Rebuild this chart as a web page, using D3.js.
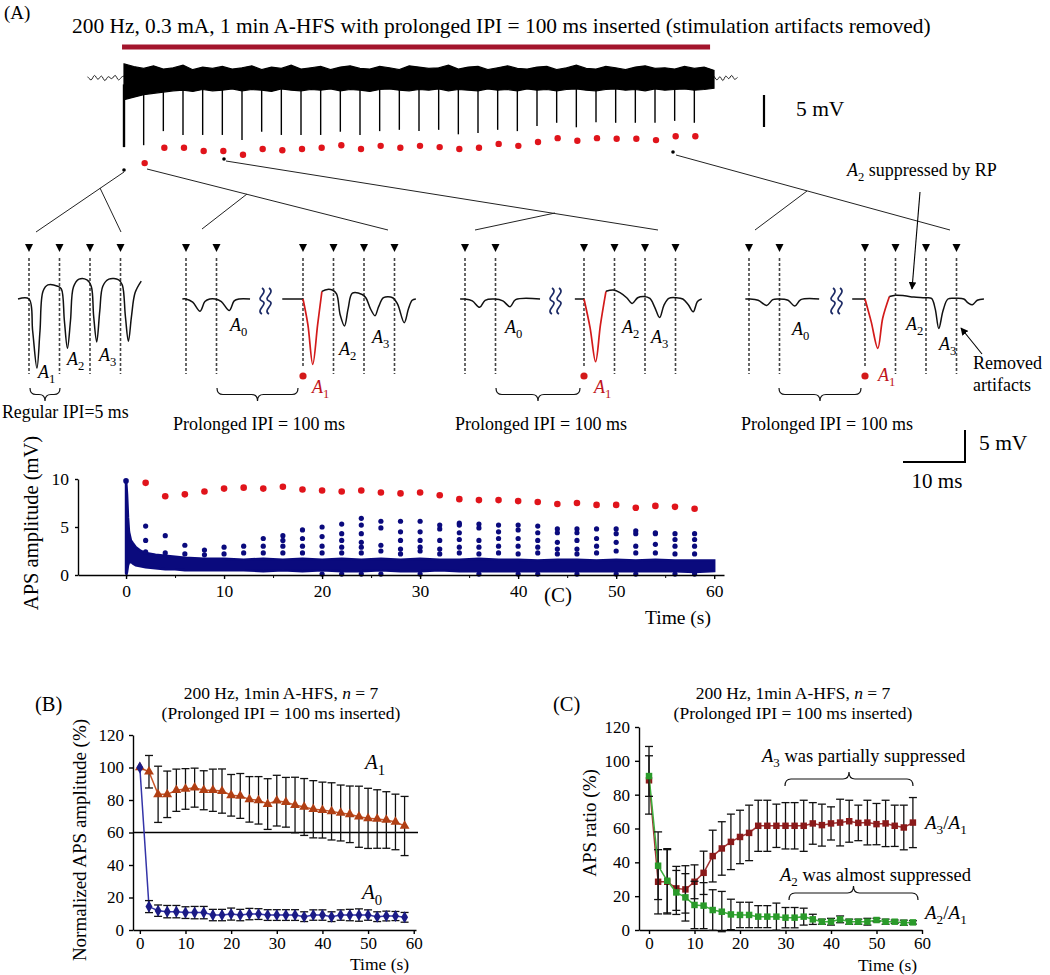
<!DOCTYPE html>
<html>
<head>
<meta charset="utf-8">
<script src="https://cdn.jsdelivr.net/npm/d3@7"></script>
<style>
  body { margin: 0; background: #fff; }
  svg { display: block; }
</style>
</head>
<body>
<svg id="fig" width="1050" height="975"></svg>
<script>
// ---------------- data ----------------
// pulse times of the prolonged IPI (s)
const timeSec = [0,2,4,6,8,10,12,14,16,18,20,22,24,26,28,30,32,34,36,38,40,42,44,46,48,50,52,54,56,58];
const pulseSec = [2,4,6,8,10,12,14,16,18,20,22,24,26,28,30,32,34,36,38,40,42,44,46,48,50,52,54,56,58];

// raw trace (mV): spike depth at every prolonged IPI and the A1 dot under it
const traceSpike = [10.8,10.5,8.3,8.9,8.9,8.9,9.7,8.4,8.9,8.9,8.9,8.4,8.9,8.3,8.1,8.3,8.1,8.8,8.6,8.1,8.3,7.5,7.0,7.7,6.9,7.0,7.0,7.0,6.7,7.0];
const traceA1 = [13.3,10.9,10.9,11.4,11.4,12.0,11.1,11.3,11.1,10.9,10.5,11.1,10.6,10.9,10.6,10.8,11.1,10.9,10.3,10.6,10.0,9.4,9.8,9.4,9.5,9.5,9.7,9.1,9.1];
// envelope of the noisy trace during stimulation, 1 s steps (mV)
const noiseSec = [0,1,2,3,4,5,6,7,8,9,10,11,12,13,14,15,16,17,18,19,20,21,22,23,24,25,26,27,28,29,30,31,32,33,34,35,36,37,38,39,40,41,42,43,44,45,46,47,48,49,50,51,52,53,54,55,56,57,58,59,60];
const noiseHi = [2.2,1.8,1.5,1.9,1.4,1.6,2.0,1.3,1.7,1.5,1.8,1.4,1.6,1.9,1.3,1.7,1.5,2.0,1.4,1.6,1.8,1.3,1.7,1.9,1.5,1.4,1.8,1.6,1.3,1.9,1.7,1.5,1.6,2.0,1.4,1.7,1.8,1.3,1.6,1.9,1.5,1.4,1.7,1.8,1.3,1.6,2.0,1.5,1.4,1.8,1.6,1.3,1.7,1.9,1.5,1.6,1.4,1.8,1.5,1.7,1.2];
const noiseLo = [-3.4,-3.0,-2.6,-2.4,-2.2,-2.0,-1.9,-2.1,-1.8,-2.0,-1.9,-1.7,-2.0,-1.8,-1.9,-2.1,-1.7,-1.9,-2.0,-1.8,-1.9,-1.7,-2.0,-1.8,-1.9,-2.1,-1.8,-1.7,-1.9,-2.0,-1.8,-1.9,-1.7,-2.0,-1.8,-1.9,-2.0,-1.7,-1.9,-1.8,-2.0,-1.7,-1.9,-1.8,-2.0,-1.8,-1.7,-1.9,-2.0,-1.8,-1.7,-1.9,-1.8,-2.0,-1.7,-1.9,-1.8,-1.7,-1.9,-1.8,-1.6];
const preSec = [-3.7,-3.35,-3.0,-2.65,-2.3,-1.95,-1.6,-1.25,-0.9,-0.55,-0.2,0];
const preMv = [0.2,-0.3,0.4,-0.2,0.3,-0.4,0.2,-0.1,0.4,-0.3,0.2,0.3];
const postSec = [60,60.3,60.6,60.9,61.2,61.5,61.8,62.1,62.4];
const postMv = [0.3,-0.3,0.2,-0.4,0.3,-0.1,0.4,-0.2,0.1];

// insets: [ms, mV] samples of each sweep
const waveRegular = [[-1.8,0],[0,0],[0.6,-5.0],[1.3,-10.8],[1.8,-5.0],[2.3,1.2],[3.1,2.2],[4.7,2.0],[5.3,1.6],[5.8,-3.4],[6.3,-7.7],[6.8,-3.4],[7.3,1.9],[8.2,3.1],[9.5,3.0],[10.2,2.0],[10.6,-2.7],[11.1,-6.7],[11.6,-1.9],[12.1,2.0],[13.1,3.1],[14.7,3.0],[15.3,2.2],[15.8,-2.7],[16.3,-6.6],[16.8,-2.7],[17.4,1.0],[18.4,2.8]];
const wavePre2 = [[-0.6,0],[0,0],[1.1,-0.5],[2.3,-1.9],[3.1,-0.4],[3.9,0],[4.8,0],[5.8,-0.4],[7.1,-1.8],[7.9,-0.3],[8.7,0],[10.5,0]];
const waveRed2 = [[-3.4,0],[0,0],[0.8,-4.0],[1.6,-10.2],[2.4,-4.0],[3.1,1.2]];
const wavePost2 = [[3.1,1.2],[4.0,1.5],[4.8,1.4],[5.5,0.8],[6.1,-2.5],[6.8,-4.2],[7.4,-1.5],[8.1,0.9],[9.7,0.7],[10.3,0.2],[11.1,-1.6],[11.8,-2.6],[12.4,-1.2],[13.2,0.2],[14.7,0.2],[15.5,-0.8],[16.6,-3.7],[17.3,-1.5],[17.9,-0.2],[18.5,0]];
const wavePre3 = [[-0.8,0],[0,0],[1.2,-0.3],[2.4,-1.3],[3.3,-0.2],[4.9,0],[6.2,-0.3],[7.4,-1.2],[8.3,-0.1],[12.3,0]];
const waveRed3 = [[-1.5,0],[0,0],[1.0,-4.5],[1.9,-9.8],[2.7,-4.0],[3.6,1.2]];
const wavePost3 = [[3.6,1.2],[4.8,1.4],[5.9,1.0],[7.0,0.2],[7.9,-0.7],[8.8,0.2],[9.8,0.4],[10.8,0.1],[11.6,-1.3],[12.4,-2.9],[13.1,-1.0],[13.9,0.1],[15.1,0.2],[16.2,0.0],[17.1,-0.9],[17.9,-2.0],[18.6,-0.4],[19.3,0]];
const wavePre4 = [[-0.6,0],[0,0],[1.5,-0.2],[2.9,-1.0],[3.9,-0.1],[4.8,0],[6.4,-0.2],[7.5,-1.1],[8.5,-0.1],[11.5,0]];
const waveRed4 = [[-2.1,0],[0,0],[1.0,-3.5],[2.1,-7.7],[2.9,-3.0],[4.0,0.4]];
const wavePost4 = [[4.0,0.4],[5.0,0.6],[6.5,0.5],[8.0,0.3],[9.8,0.2],[10.9,0.1],[11.5,-1.5],[12.1,-4.6],[12.8,-1.8],[13.6,0],[14.9,0.1],[16.2,0],[16.9,-0.6],[17.6,-0.9],[18.4,-0.2],[19.5,0]];

// APS amplitude scatter (mV)
const ampA1 = [9.6,8.2,8.4,8.7,9.0,9.1,9.0,9.2,8.9,8.8,8.7,8.8,8.6,8.5,8.6,8.3,7.9,7.8,7.8,7.7,7.6,7.4,7.5,7.3,7.3,7.0,7.2,7.1,6.9];
const ampOthers = [
  [5.1,3.6,2.4],[4.1,2.3],[3.1,2.2],[2.6,2.1],[2.9,2.2],[3.0,2.3],[3.8,3.0,2.3],[4.1,3.6,3.0,2.3],
  [4.7,3.8,3.0,2.3],[5.0,4.0,3.0,2.3,0.1],[5.3,4.3,3.6,2.9,2.3,0.1],[5.9,5.2,4.3,3.4,2.9,2.3,0.1],
  [5.6,4.9,3.1,2.5,0.1],[5.6,4.5,3.6,2.7,2.2],[5.6,4.5,3.6,2.9,2.5,0.1],[5.2,4.8,3.6,2.7,2.2],
  [5.4,5.2,4.4,3.7,2.9,2.3],[5.3,4.9,3.6,2.9,2.2,0.1],[5.2,4.5,3.8,3.0,2.3],[5.2,4.7,3.8,3.0,2.2,0.1],
  [5.1,4.4,3.6,2.9,2.3,0.1],[4.8,4.4,3.4,2.7,2.2],[4.8,4.4,3.6,2.7,2.2,0.1],[4.8,3.8,3.0,2.3],
  [4.8,4.3,3.4,2.5,0.1],[4.6,4.3,3.0,2.3,0.1],[4.4,4.3,3.2,2.3],[4.3,3.7,3.0,2.2,0.1],[4.3,3.7,3.0,2.2,0.1]
];
const bandSec = [0,0.05,0.1,0.2,0.3,0.5,0.7,1,1.5,2,3,4,5,6,8,10,12,14,16,18,20,22,24,26,28,30,32,34,36,38,40,42,44,46,48,50,52,54,56,58,60];
const bandHi = [9.8,9.2,8.4,6.0,4.5,3.6,3.3,2.9,2.5,2.3,2.1,2.0,1.9,1.8,1.7,1.7,1.6,1.7,1.6,1.7,1.6,1.7,1.6,1.7,1.6,1.7,1.6,1.6,1.7,1.6,1.6,1.5,1.6,1.6,1.5,1.6,1.5,1.6,1.5,1.5,1.5];
const bandLo = [0.2,0.1,0.3,1.0,1.3,1.4,1.2,1.0,0.9,0.8,0.7,0.6,0.6,0.5,0.5,0.5,0.5,0.4,0.5,0.4,0.5,0.4,0.4,0.5,0.4,0.4,0.5,0.4,0.4,0.4,0.4,0.4,0.4,0.4,0.4,0.4,0.4,0.4,0.4,0.3,0.4];

// (B) normalized APS amplitude (%)
const normA1 = [100,97.4,83.5,83.5,86,86.8,87.6,86,86,85.5,82.9,82.5,80.4,79.8,77.5,79.6,78.6,76.9,75.7,74.3,73.8,73,72,71.2,69.7,68.7,68.3,67.7,66.5,64];
const sdA1 = [0,10,17.3,14.3,13,12.5,12,12,13,13.6,12.8,13.8,14,14.6,15.6,15.6,15.3,17.1,17.5,17.6,17.2,17.6,17.2,17.4,18.8,18.5,18,17.4,17.1,18.2];
const normA0 = [100,14.4,11.9,11.3,11.3,10.7,10.7,10.7,9.2,9.2,9.8,9.2,9.8,9.8,9.2,9.2,9.2,9.2,8.2,9.2,9.2,8.2,9.2,9.2,9.2,9.2,8.2,8.6,8.6,7.8];
const sdA0 = [0,3.7,3.5,3.8,3.8,3.6,3.8,3.8,3.5,3.5,3.7,3.5,3.5,3.3,3.3,3.3,3.3,3.3,3.0,3.2,3.2,3.0,3.2,3.5,3.8,3.2,3.0,3.0,2.8,3.0];

// (C) APS ratio (%)
const ratioA3 = [88.5,28.5,28.5,24.6,24.0,28.5,33.8,43.7,48.2,52.1,55.0,57.4,61.6,61.6,61.6,61.6,61.6,61.6,63.0,62.0,63.0,63.5,64.3,63.3,63.5,62.6,63.0,61.6,60.6,63.5];
const sdA3 = [20,19,19,13,14,10,12.8,15.3,15.8,16.4,15.8,16.4,15.1,15.1,12.8,13.7,13.7,15.1,12.3,12.4,9.8,13.8,12.4,10.5,13.2,12.2,13.7,12.2,13.2,14.8];
const ratioA2 = [91,38,29.1,22.2,19.3,14.8,14.4,11.8,10.8,9.2,8.9,8.9,7.9,7.9,7.9,7.3,7.3,7.9,6.3,4.9,4.9,6.3,4.9,4.9,4.9,5.9,4.9,4.9,4.3,4.5];
const sdA2 = [12,20,19,13,14,14,13.6,12,12,9,7.5,7.5,6.5,6.5,8,6,6,5,3,1.5,2,2,1.5,1.5,2,1,1.5,1,1.5,1];

const ticks60 = [0,10,20,30,40,50,60];
const ticks120 = [0,20,40,60,80,100,120];

// ---------------- helpers ----------------
const FONT = '"Liberation Serif", "Times New Roman", Times, serif';
const svg = d3.select("#fig").attr("font-family", FONT);
svg.append("rect").attr("width", 1050).attr("height", 975).attr("fill", "#fff");

function text(g, x, y, s, size, anchor) {
  return g.append("text").attr("x", x).attr("y", y).attr("font-size", size)
    .attr("text-anchor", anchor || "start").text(s);
}
// parts: "A1" -> italic A with subscript 1, other strings plain
function rich(g, x, y, size, parts, color, anchor) {
  const t = g.append("text").attr("x", x).attr("y", y).attr("font-size", size)
    .attr("fill", color || "#000").attr("text-anchor", anchor || "start");
  let down = false;
  parts.forEach(p => {
    if (/^A\d$/.test(p)) {
      const a = t.append("tspan").attr("font-style", "italic").text("A");
      if (down) { a.attr("dy", -size * 0.28); down = false; }
      t.append("tspan").attr("font-size", size * 0.7).attr("dy", size * 0.28).text(p[1]);
      down = true;
    } else {
      const s = t.append("tspan").text(p);
      if (down) { s.attr("dy", -size * 0.28); down = false; }
    }
  });
  return t;
}
function brace(g, x1, x2, y, d) {
  const xm = (x1 + x2) / 2, q = 6, h = y + d / 2;
  g.append("path").attr("fill", "none").attr("stroke", "#111").attr("stroke-width", 1.2)
    .attr("d", `M${x1},${y} Q${x1},${h} ${x1 + q},${h} L${xm - q},${h} Q${xm},${h} ${xm},${y + d} Q${xm},${h} ${xm + q},${h} L${x2 - q},${h} Q${x2},${h} ${x2},${y}`);
}
function styleAxis(g, size) {
  g.attr("font-family", FONT).attr("font-size", size || 17);
  g.selectAll("text").attr("fill", "#000");
  g.selectAll("path, line").attr("stroke", "#000").attr("stroke-width", 1.4);
}

// ---------------- (A) top: raw trace ----------------
const gTop = svg.append("g");
text(gTop, 4, 19, "(A)", 19);
text(gTop, 72, 33, "200 Hz, 0.3 mA, 1 min A-HFS with prolonged IPI = 100 ms inserted (stimulation artifacts removed)", 21.4);

const xT = d3.scaleLinear().domain([0, 60]).range([124, 714]);
const yT = d3.scaleLinear().domain([0, -5]).range([78, 110]);

gTop.append("line").attr("x1", xT(-0.2)).attr("x2", xT(59.6)).attr("y1", 47).attr("y2", 47)
  .attr("stroke", "#a3152c").attr("stroke-width", 5);

const wig = d3.line().x(d => xT(d[0])).y(d => yT(d[1])).curve(d3.curveCatmullRom);
gTop.append("path").datum(preSec.map((t, i) => [t, preMv[i]])).attr("d", wig)
  .attr("fill", "none").attr("stroke", "#222").attr("stroke-width", 1);
gTop.append("path").datum(postSec.map((t, i) => [t, postMv[i]])).attr("d", wig)
  .attr("fill", "none").attr("stroke", "#222").attr("stroke-width", 1);

const noise = noiseSec.map((t, i) => ({ t, hi: noiseHi[i], lo: noiseLo[i] }));
gTop.append("path").datum(noise)
  .attr("d", d3.area().x(d => xT(d.t)).y0(d => yT(d.lo)).y1(d => yT(d.hi)))
  .attr("fill", "#000").attr("stroke", "#000").attr("stroke-width", 1.2);

gTop.selectAll(".spike").data(timeSec).join("line")
  .attr("x1", d => xT(d)).attr("x2", d => xT(d))
  .attr("y1", yT(-1)).attr("y2", (d, i) => yT(-traceSpike[i]))
  .attr("stroke", "#000").attr("stroke-width", (d, i) => i === 0 ? 2.4 : 1.4);

gTop.selectAll(".tdot").data(pulseSec).join("circle")
  .attr("cx", d => xT(d) + 1).attr("cy", (d, i) => yT(-traceA1[i])).attr("r", 3.2)
  .attr("fill", "#e0141b");

// 5 mV scale bar
gTop.append("line").attr("x1", 764).attr("x2", 764).attr("y1", yT(0) + 17).attr("y2", yT(-5) + 17)
  .attr("stroke", "#000").attr("stroke-width", 2.2);
text(gTop, 796, 116, "5 mV", 21.5);

// connectors from trace to the insets
const gCon = svg.append("g").attr("stroke", "#222").attr("stroke-width", 1).attr("fill", "none");
[[124, 172, 36, 232], [100, 188, 121, 232],
 [147, 169, 388, 230], [247, 194, 202, 229],
 [226, 161, 658, 230], [555, 213, 475, 230],
 [676, 155, 950, 230], [807, 191, 755, 230]].forEach(s => {
  gCon.append("line").attr("x1", s[0]).attr("y1", s[1]).attr("x2", s[2]).attr("y2", s[3]);
});
[[124, 170], [224, 159], [673, 152]].forEach(p =>
  svg.append("circle").attr("cx", p[0]).attr("cy", p[1]).attr("r", 1.8).attr("fill", "#000"));

// ---------------- (A) insets ----------------
const gIn = svg.append("g");
const Y0 = 299;
const yIn = d3.scaleLinear().domain([0, -5]).range([Y0, Y0 + 32]);
function sweep(x0, wave, color, width) {
  const xs = d3.scaleLinear().domain([0, 10]).range([x0, x0 + 61]);
  gIn.append("path").datum(wave)
    .attr("d", d3.line().x(d => xs(d[0])).y(d => yIn(d[1])).curve(d3.curveCatmullRom.alpha(0.5)))
    .attr("fill", "none").attr("stroke", color).attr("stroke-width", width || 1.5);
}
function stims(x0, msList, yBottom) {
  const xs = d3.scaleLinear().domain([0, 10]).range([x0, x0 + 61]);
  msList.forEach((ms, i) => {
    const x = xs(ms);
    gIn.append("path").attr("d", `M${x - 4},244 L${x + 4},244 L${x},252 Z`).attr("fill", "#000");
    gIn.append("line").attr("x1", x).attr("x2", x).attr("y1", 258)
      .attr("y2", yBottom && i === 0 ? yBottom : 374)
      .attr("stroke", "#444").attr("stroke-width", 1.6).attr("stroke-dasharray", "3,2");
  });
}
function squiggle(x) {
  [0, 7].forEach(dx => {
    gIn.append("path")
      .attr("d", `M${x + dx},288 C${x + dx + 7},293 ${x + dx - 7},298 ${x + dx},301 C${x + dx + 7},304 ${x + dx - 7},310 ${x + dx},314`)
      .attr("fill", "none").attr("stroke", "#1e2c66").attr("stroke-width", 1.7);
  });
}

// inset 1: regular IPI
stims(29, [0, 5, 10, 15]);
sweep(29, waveRegular, "#111");
rich(gIn, 38, 378, 18, ["A1"]);
rich(gIn, 67, 365, 18, ["A2"]);
rich(gIn, 99, 361, 18, ["A3"]);
brace(gIn, 30, 60, 388, 13);
text(gIn, 2, 418, "Regular IPI=5 ms", 17.8);

// insets 2-4: prolonged IPI
const prolonged = [
  { pre: 186, post: 303, wPre: wavePre2, wRed: waveRed2, wPost: wavePost2, sq: 262,
    a0: [230, 331], a2: [339, 355], a3: [372, 343], a1: [312, 393], br: [217, 298], lab: 259 },
  { pre: 465, post: 584, wPre: wavePre3, wRed: waveRed3, wPost: wavePost3, sq: 552,
    a0: [505, 333], a2: [622, 333], a3: [651, 343], a1: [594, 393], br: [496, 580], lab: 541 },
  { pre: 749, post: 865, wPre: wavePre4, wRed: waveRed4, wPost: wavePost4, sq: 833,
    a0: [792, 335], a2: [906, 330], a3: [939, 350], a1: [878, 381], br: [779, 861], lab: 827 }
];
prolonged.forEach(p => {
  stims(p.pre, [0, 5]);
  stims(p.post, [0, 5, 10, 15], 366);
  sweep(p.pre, p.wPre, "#111");
  squiggle(p.sq);
  sweep(p.post, p.wRed.slice(0, 2), "#111");
  sweep(p.post, p.wRed.slice(1), "#d31a1a", 1.7);
  sweep(p.post, p.wPost, "#111");
  gIn.append("circle").attr("cx", p.post).attr("cy", 376).attr("r", 3.6).attr("fill", "#d31a1a");
  rich(gIn, p.a0[0], p.a0[1], 18, ["A0"]);
  rich(gIn, p.a2[0], p.a2[1], 18, ["A2"]);
  rich(gIn, p.a3[0], p.a3[1], 18, ["A3"]);
  rich(gIn, p.a1[0], p.a1[1], 18, ["A1"], "#c0141b");
  brace(gIn, p.br[0], p.br[1], 388, 13);
  text(gIn, p.lab, 430, "Prolonged IPI = 100 ms", 18, "middle");
});

// annotation arrows
const defs = svg.append("defs");
defs.append("marker").attr("id", "ah").attr("viewBox", "0 0 10 10").attr("refX", 9).attr("refY", 5)
  .attr("markerWidth", 7).attr("markerHeight", 7).attr("orient", "auto")
  .append("path").attr("d", "M0,0 L10,5 L0,10 Z").attr("fill", "#000");
gIn.append("line").attr("x1", 920).attr("y1", 192).attr("x2", 912).attr("y2", 289)
  .attr("stroke", "#000").attr("stroke-width", 1.1).attr("marker-end", "url(#ah)");
rich(gIn, 847, 176, 18, ["A2", " suppressed by RP"]);
gIn.append("line").attr("x1", 982).attr("y1", 354).attr("x2", 961).attr("y2", 328)
  .attr("stroke", "#000").attr("stroke-width", 1.1).attr("marker-end", "url(#ah)");
text(gIn, 973, 369, "Removed", 18);
text(gIn, 973, 391, "artifacts", 18);

// inset scale bar
gIn.append("path").attr("d", "M903,462 L965,462 L965,430").attr("fill", "none")
  .attr("stroke", "#000").attr("stroke-width", 2);
text(gIn, 979, 450, "5 mV", 21.5);
text(gIn, 937, 488, "10 ms", 21, "middle");

// ---------------- (A) bottom: APS amplitude scatter ----------------
const gS = svg.append("g");
const xA = d3.scaleLinear().domain([-4.9, 61]).range([78, 724]);
const yA = d3.scaleLinear().domain([0, 10]).range([575, 479]);

const band = bandSec.map((t, i) => ({ t, hi: bandHi[i], lo: bandLo[i] }));
gS.append("path").datum(band)
  .attr("d", d3.area().x(d => xA(d.t)).y0(d => yA(d.lo)).y1(d => yA(d.hi)))
  .attr("fill", "#0a0a7d").attr("stroke", "#0a0a7d").attr("stroke-width", 2.5);

const others = [];
pulseSec.forEach((t, i) => ampOthers[i].forEach(v => others.push([t, v])));
gS.selectAll(".od").data(others).join("circle")
  .attr("cx", d => xA(d[0])).attr("cy", d => yA(d[1])).attr("r", 2.6).attr("fill", "#0a0a7d");
gS.append("circle").attr("cx", xA(0)).attr("cy", yA(9.8)).attr("r", 2.8).attr("fill", "#0a0a7d");
gS.selectAll(".rd").data(pulseSec).join("circle")
  .attr("cx", d => xA(d)).attr("cy", (d, i) => yA(ampA1[i])).attr("r", 3.3).attr("fill", "#e0141b");

const axA = gS.append("g").attr("transform", "translate(0,575)")
  .call(d3.axisBottom(xA).tickValues(ticks60).tickSize(4).tickSizeOuter(0).tickPadding(6));
styleAxis(axA, 17.5);
gS.append("g").attr("transform", "translate(0,575)")
  .call(d3.axisBottom(xA).tickValues([5, 15, 25, 35, 45, 55]).tickSize(3).tickFormat(""))
  .call(g => g.select(".domain").remove())
  .selectAll("line").attr("stroke", "#000");
const ayA = gS.append("g").attr("transform", "translate(78,0)")
  .call(d3.axisLeft(yA).tickValues([0, 5, 10]).tickSize(3).tickSizeOuter(0).tickPadding(6));
styleAxis(ayA, 17.5);
text(gS, 0, 0, "APS amplitude (mV)", 20.5, "middle").attr("transform", "translate(38,523) rotate(-90)");
text(gS, 558, 602, "(C)", 21, "middle");
text(gS, 645, 624, "Time (s)", 19.5);

// ---------------- (B) ----------------
const gB = svg.append("g");
const xB = d3.scaleLinear().domain([-1.5, 60.5]).range([133, 416]);
const yB = d3.scaleLinear().domain([0, 120]).range([930, 735]);
text(gB, 35, 711, "(B)", 20.5);
const tB = gB.append("text").attr("x", 281).attr("y", 699).attr("font-size", 17.5).attr("text-anchor", "middle");
tB.append("tspan").text("200 Hz, 1min A-HFS, ");
tB.append("tspan").attr("font-style", "italic").text("n");
tB.append("tspan").text(" = 7");
text(gB, 281, 719, "(Prolonged IPI = 100 ms inserted)", 17.5, "middle");

const axB = gB.append("g").attr("transform", "translate(0,930)")
  .call(d3.axisBottom(xB).tickValues(ticks60).tickSize(4).tickSizeOuter(0).tickPadding(3));
styleAxis(axB);
const ayB = gB.append("g").attr("transform", "translate(133,0)")
  .call(d3.axisLeft(yB).tickValues(ticks120).tickSize(4).tickSizeOuter(0).tickPadding(5));
styleAxis(ayB);
text(gB, 0, 0, "Normalized APS amplitude (%)", 19, "middle").attr("transform", "translate(86,840) rotate(-90)");
text(gB, 350, 970, "Time (s)", 17.5);
gB.append("line").attr("x1", 133).attr("x2", 418).attr("y1", yB(60)).attr("y2", yB(60))
  .attr("stroke", "#000").attr("stroke-width", 1.3);

function series(g, xs, ys, vals, sds, lineColor, markColor, symbol) {
  const pts = timeSec.map((t, i) => [t, vals[i], sds[i]]);
  g.append("path").datum(pts).attr("d", d3.line().x(d => xs(d[0])).y(d => ys(d[1])))
    .attr("fill", "none").attr("stroke", lineColor).attr("stroke-width", 1.5);
  const eb = g.append("g").attr("stroke", "#111").attr("stroke-width", 1.3);
  pts.forEach(d => {
    if (!d[2]) return;
    const x = xs(d[0]), y1 = ys(d[1] + d[2]), y2 = ys(Math.max(d[1] - d[2], -1));
    eb.append("line").attr("x1", x).attr("x2", x).attr("y1", y1).attr("y2", y2);
    eb.append("line").attr("x1", x - 4).attr("x2", x + 4).attr("y1", y1).attr("y2", y1);
    eb.append("line").attr("x1", x - 4).attr("x2", x + 4).attr("y1", y2).attr("y2", y2);
  });
  g.append("g").selectAll("path").data(pts).join("path")
    .attr("transform", d => `translate(${xs(d[0])},${ys(d[1])})`)
    .attr("d", d3.symbol().type(symbol).size(42)).attr("fill", markColor);
}
series(gB, xB, yB, normA1, sdA1, "#c8572a", "#b03f14", d3.symbolTriangle);
series(gB, xB, yB, normA0, sdA0, "#3434a8", "#1b1b86", d3.symbolDiamond);
rich(gB, 365, 769, 21, ["A1"]);
rich(gB, 362, 899, 21, ["A0"]);

// ---------------- (C) ----------------
const gC = svg.append("g");
const xC = d3.scaleLinear().domain([-2.2, 60]).range([639, 922]);
const yC = d3.scaleLinear().domain([0, 120]).range([930, 727]);
text(gC, 553, 711, "(C)", 20.5);
const tC = gC.append("text").attr("x", 793).attr("y", 699).attr("font-size", 17.5).attr("text-anchor", "middle");
tC.append("tspan").text("200 Hz, 1min A-HFS, ");
tC.append("tspan").attr("font-style", "italic").text("n");
tC.append("tspan").text(" = 7");
text(gC, 793, 719, "(Prolonged IPI = 100 ms inserted)", 17.5, "middle");

const axC = gC.append("g").attr("transform", "translate(0,930)")
  .call(d3.axisBottom(xC).tickValues(ticks60).tickSize(4).tickSizeOuter(0).tickPadding(3));
styleAxis(axC);
const ayC = gC.append("g").attr("transform", "translate(639,0)")
  .call(d3.axisLeft(yC).tickValues(ticks120).tickSize(4).tickSizeOuter(0).tickPadding(5));
styleAxis(ayC);
text(gC, 0, 0, "APS ratio (%)", 19, "middle").attr("transform", "translate(596,823) rotate(-90)");
text(gC, 858, 971, "Time (s)", 17.5);

series(gC, xC, yC, ratioA3, sdA3, "#a23434", "#8a1a1a", d3.symbolSquare);
series(gC, xC, yC, ratioA2, sdA2, "#3cae3c", "#2a9a2a", d3.symbolSquare);

rich(gC, 762, 762, 18.5, ["A3", " was partially suppressed"]);
brace(gC, 785, 913, 786, -14);
rich(gC, 780, 881, 18.5, ["A2", " was almost suppressed"]);
brace(gC, 789, 918, 900, -14);
rich(gC, 925, 829, 19, ["A3", "/", "A1"]);
rich(gC, 925, 919, 19, ["A2", "/", "A1"]);
</script>
</body>
</html>
